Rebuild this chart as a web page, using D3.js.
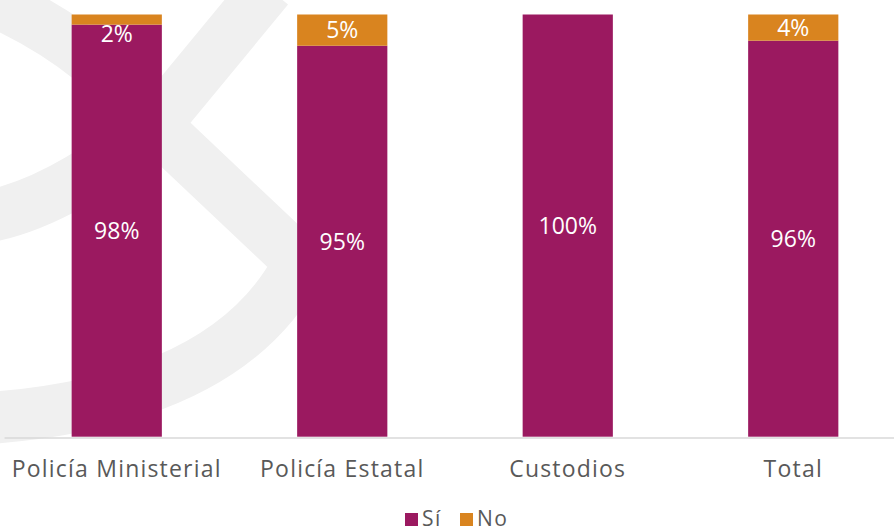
<!DOCTYPE html>
<html>
<head>
<meta charset="utf-8">
<script src="https://cdn.jsdelivr.net/npm/d3@7"></script>
<style>
  html, body { margin:0; padding:0; background:#fff; }
  #chart { width:894px; height:531px; }
  text { font-family: 'Open Sans', sans-serif; }
</style>
</head>
<body>
<div id="chart"></div>
<script>
const categories = ['Policía Ministerial', 'Policía Estatal', 'Custodios', 'Total'];
const siValues = [97.6, 92.6, 100, 93.8];
const noValues = [2.4, 7.4, 0, 6.2];
const siLabels = ['98%', '95%', '100%', '96%'];
const noLabels = ['2%', '5%', '', '4%'];
const seriesNames = ['Sí', 'No'];
const seriesColors = ['#9b1960', '#d9841f'];

(function(){
  const width = 894, height = 531;
  const axisY = 436.7;

  const svg = d3.select('#chart').append('svg')
    .attr('width', width)
    .attr('height', height);

  // faint watermark behind the chart
  const wm = svg.append('g')
    .attr('fill', 'none')
    .attr('stroke', '#f0f0f0')
    .attr('stroke-width', 52);
  wm.append('path').attr('d', 'M268,-12 L155,125 L300,262 Q230,400 -10,418');
  wm.append('path').attr('d', 'M155,125 Q60,205 -20,218');
  wm.append('path').attr('d', 'M155,125 Q90,40 -20,-5');

  const rows = categories.map((c, i) => ({cat: c, 'Sí': siValues[i], 'No': noValues[i], i: i}));
  const stacked = d3.stack().keys(seriesNames)(rows);

  const x = d3.scaleBand()
    .domain(categories)
    .range([4, 906])
    .paddingInner(0.6)
    .paddingOuter(0.3);

  const y = d3.scaleLinear()
    .domain([0, 100])
    .range([axisY, 14.5]);

  const color = d3.scaleOrdinal().domain(seriesNames).range(seriesColors);

  // bars
  const layers = svg.append('g').selectAll('g')
    .data(stacked).enter().append('g')
    .attr('fill', d => color(d.key));

  layers.selectAll('rect')
    .data(d => d).enter().append('rect')
    .attr('x', d => x(d.data.cat))
    .attr('y', d => y(d[1]))
    .attr('width', x.bandwidth())
    .attr('height', d => y(d[0]) - y(d[1]));

  // labels
  stacked.forEach((layer, k) => {
    const labels = k === 0 ? siLabels : noLabels;
    svg.append('g').selectAll('text')
      .data(layer).enter().append('text')
      .attr('x', d => x(d.data.cat) + x.bandwidth()/2)
      .attr('y', d => {
        const top = y(d[1]), bot = y(d[0]);
        if (bot - top < 20) return top + 19;
        return (top + bot) / 2;
      })
      .attr('dy', '0.36em')
      .attr('text-anchor', 'middle')
      .attr('fill', '#fff')
      .attr('font-size', '23px')
      .text(d => labels[d.data.i]);
  });

  // x axis
  const ax = svg.append('g')
    .attr('transform', `translate(0,${axisY + 0.8})`)
    .call(d3.axisBottom(x).tickSize(0).tickPadding(23));
  ax.select('.domain').attr('stroke', '#d9d9d9').attr('stroke-width', 1.6);
  ax.selectAll('text')
    .attr('font-family', "'Open Sans', sans-serif")
    .attr('font-size', '23px')
    .attr('letter-spacing', '1.2px')
    .attr('fill', '#595959');

  // legend
  const legend = svg.append('g').attr('transform', 'translate(405,526)');
  const legX = [0, 55];
  seriesNames.forEach((s, i) => {
    const item = legend.append('g').attr('transform', `translate(${legX[i]},0)`);
    item.append('rect')
      .attr('x', 0).attr('y', -13)
      .attr('width', 13).attr('height', 13)
      .attr('fill', color(s));
    item.append('text')
      .attr('x', 17)
      .attr('font-size', '21px')
      .attr('letter-spacing', '1.5px')
      .attr('fill', '#595959')
      .text(s);
  });
})();
</script>
</body>
</html>
